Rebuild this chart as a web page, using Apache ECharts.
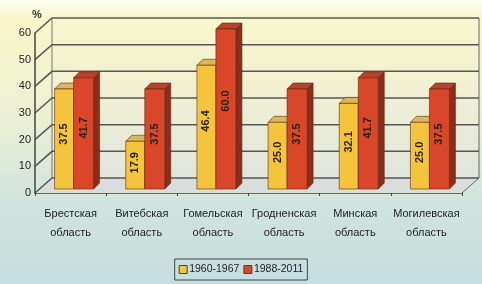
<!DOCTYPE html>
<html>
<head>
<meta charset="utf-8">
<script src="https://cdn.jsdelivr.net/npm/echarts@6/dist/echarts.min.js"></script>
<style>
html, body { margin: 0; padding: 0; }
#chart { width: 482px; height: 284px; }
</style>
</head>
<body>
<div id="chart"></div>
<script>
const regions = ['Брестская\nобласть', 'Витебская\nобласть', 'Гомельская\nобласть', 'Гродненская\nобласть', 'Минская\nобласть', 'Могилевская\nобласть'];
const period1 = [37.5, 17.9, 46.4, 25.0, 32.1, 25.0];
const period2 = [41.7, 37.5, 60.0, 37.5, 41.7, 37.5];
const seriesNames = ['1960-1967', '1988-2011'];
const yTicks = [0, 10, 20, 30, 40, 50, 60];

// 3d offsets (pixels)
const WALL_DX = 17, WALL_DY = -15;
const BAR_DX = 6, BAR_DY = -6;

const myChart = echarts.init(document.getElementById('chart'));

function frameRenderer(params, api) {
    const cs = params.coordSys;
    const v = api.value(1);
    const y = api.coord([0, v])[1];
    const x0 = cs.x, x1 = cs.x + cs.width;
    const yTop = cs.y, yBot = cs.y + cs.height;
    const line = { stroke: '#575757', lineWidth: 1.5 };
    const children = [];
    if (params.dataIndex === 0) {
        children.push({
            type: 'rect',
            shape: { x: x0 + WALL_DX, y: yTop + WALL_DY, width: cs.width, height: cs.height },
            style: {
                fill: new echarts.graphic.LinearGradient(0, 0, 0, 1, [
                    { offset: 0, color: '#f9f7cc' },
                    { offset: 0.45, color: '#f1f0d2' },
                    { offset: 1, color: '#dfe6df' }
                ])
            }
        });
        children.push({
            type: 'polygon',
            shape: { points: [[x0, yBot], [x0 + WALL_DX, yBot + WALL_DY], [x1 + WALL_DX, yBot + WALL_DY], [x1, yBot]] },
            style: { fill: '#d9dedc' }
        });
        children.push({
            type: 'polyline',
            shape: { points: [[x1, yBot], [x1 + WALL_DX, yBot + WALL_DY], [x1 + WALL_DX, yTop + WALL_DY]] },
            style: { stroke: '#666', lineWidth: 1, fill: null }
        });
        children.push({
            type: 'line',
            shape: { x1: x0 + WALL_DX, y1: yTop + WALL_DY, x2: x0 + WALL_DX, y2: yBot + WALL_DY },
            style: { stroke: '#777', lineWidth: 1 }
        });
    }
    children.push({
        type: 'polyline',
        shape: { points: [[x0, y], [x0 + WALL_DX, y + WALL_DY], [x1 + WALL_DX, y + WALL_DY]] },
        style: Object.assign({ fill: null }, line)
    });
    return { type: 'group', children: children };
}

function barRenderer(offset, width, face, top, side) {
    return function (params, api) {
        const idx = api.value(0);
        const val = api.value(1);
        const base = api.coord([idx, 0]);
        const tip = api.coord([idx, val]);
        const x = base[0] + offset;
        const yb = base[1] - 4;
        const yt = tip[1] - 4;
        const xr = x + width;
        return {
            type: 'group',
            children: [
                {
                    type: 'polygon',
                    shape: { points: [[xr, yt], [xr + BAR_DX, yt + BAR_DY], [xr + BAR_DX, yb + BAR_DY], [xr, yb]] },
                    style: { fill: side, stroke: '#5a2a14', lineWidth: 0.6 }
                },
                {
                    type: 'polygon',
                    shape: { points: [[x, yt], [x + BAR_DX, yt + BAR_DY], [xr + BAR_DX, yt + BAR_DY], [xr, yt]] },
                    style: { fill: top, stroke: '#5a2a14', lineWidth: 0.6 }
                },
                {
                    type: 'rect',
                    shape: { x: x, y: yt, width: width, height: yb - yt },
                    style: { fill: face, stroke: '#5a2a14', lineWidth: 0.6 }
                },
                {
                    type: 'text',
                    x: x + width / 2,
                    y: yt + (yb - yt) * 0.45,
                    rotation: Math.PI / 2,
                    style: {
                        text: val.toFixed(1),
                        fill: '#2a2410',
                        font: 'bold 11px "Liberation Sans", Arial, sans-serif',
                        align: 'center',
                        verticalAlign: 'middle'
                    }
                }
            ]
        };
    };
}

const option = {
    backgroundColor: new echarts.graphic.LinearGradient(0, 0, 0, 1, [
        { offset: 0, color: '#fdfdf0' },
        { offset: 0.07, color: '#f8f6c8' },
        { offset: 0.4, color: '#edf0d4' },
        { offset: 0.72, color: '#d0e3de' },
        { offset: 1, color: '#c4dfdf' }
    ]),
    animation: false,
    textStyle: { fontFamily: '"Liberation Sans", Arial, sans-serif' },
    grid: { left: 35, right: 20, top: 33, bottom: 91 },
    legend: {
        data: seriesNames,
        bottom: 4,
        left: 'center',
        icon: 'rect',
        itemWidth: 8,
        itemHeight: 8,
        itemGap: 4,
        padding: [5, 4],
        borderColor: '#444',
        borderWidth: 1,
        itemStyle: { borderColor: '#444', borderWidth: 1 },
        textStyle: { fontSize: 10.5, color: '#222', padding: [0, 0, 0, -3] }
    },
    graphic: [{
        type: 'text', left: 32, top: 9,
        style: { text: '%', font: 'bold 11px "Liberation Sans", Arial, sans-serif', fill: '#333' }
    }],
    xAxis: {
        type: 'category',
        data: regions,
        axisLine: { lineStyle: { color: '#444', width: 1.5 } },
        axisTick: { show: true, length: 3, lineStyle: { color: '#444' } },
        axisLabel: { fontSize: 11, color: '#222', margin: 11, lineHeight: 19, interval: 0 }
    },
    yAxis: {
        type: 'value',
        min: 0,
        max: 60,
        interval: 10,
        axisLine: { show: true, lineStyle: { color: '#444', width: 1.5 } },
        axisTick: { show: false },
        axisLabel: { fontSize: 11, color: '#222', margin: 4 },
        splitLine: { show: false }
    },
    series: [
        {
            type: 'custom',
            name: 'frame',
            renderItem: frameRenderer,
            data: yTicks.map(v => [0, v]),
            encode: { x: 0, y: 1 },
            clip: false,
            silent: true,
            z: 1
        },
        {
            type: 'custom',
            name: seriesNames[0],
            renderItem: barRenderer(-16, 19, '#f4c53c', '#d9b85c', '#b8922a'),
            itemStyle: { color: '#f4c53c' },
            data: period1.map((v, i) => [i, v]),
            encode: { x: 0, y: 1 },
            clip: false,
            z: 3
        },
        {
            type: 'custom',
            name: seriesNames[1],
            renderItem: barRenderer(3, 20, '#d9462a', '#b8432a', '#8e2c1a'),
            itemStyle: { color: '#d9462a' },
            data: period2.map((v, i) => [i, v]),
            encode: { x: 0, y: 1 },
            clip: false,
            z: 3
        }
    ]
};
myChart.setOption(option);

window.addEventListener('resize', function () {
    myChart.resize();
});
</script>
</body>
</html>
